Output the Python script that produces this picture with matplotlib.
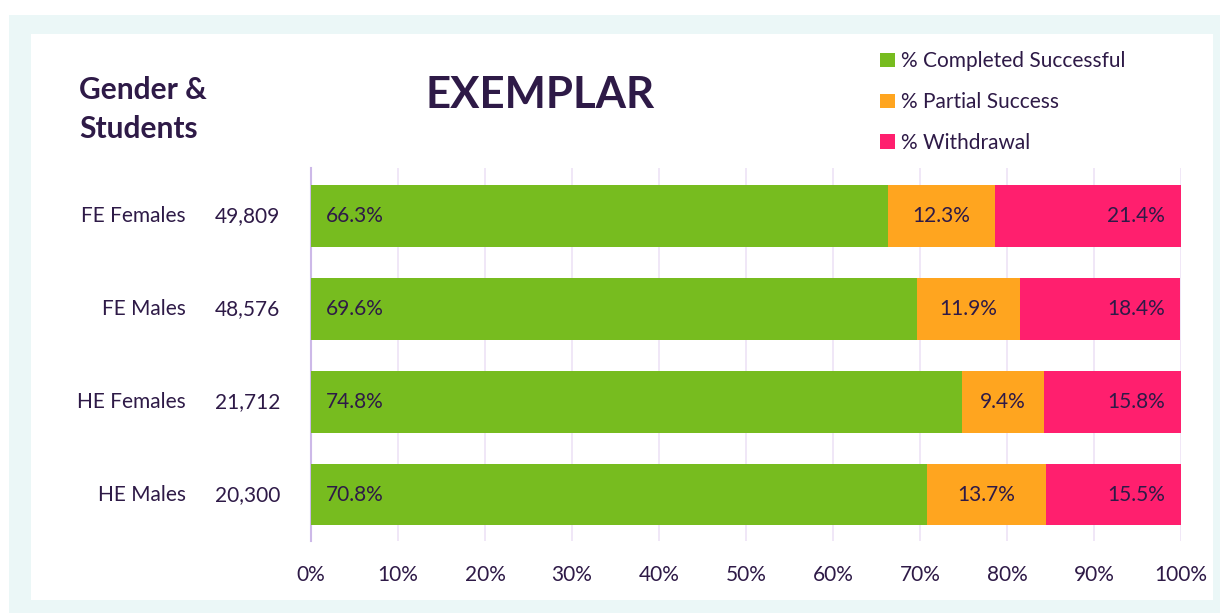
import matplotlib.pyplot as plt
import matplotlib.transforms as mtransforms
from matplotlib.patches import Rectangle, Patch

# data
groups = ['FE Females', 'FE Males', 'HE Females', 'HE Males']
students = ['49,809', '48,576', '21,712', '20,300']
completed = [66.3, 69.6, 74.8, 70.8]
partial = [12.3, 11.9, 9.4, 13.7]
withdrawal = [21.4, 18.4, 15.8, 15.5]
series_names = ['% Completed Successful', '% Partial Success', '% Withdrawal']

green = '#77BC1F'
orange = '#FFA51F'
pink = '#FF1F6E'
ink = '#2E1A47'

plt.rcParams['font.family'] = ['Lato', 'DejaVu Sans']
fs = 15

W, H = 1220, 613
fig = plt.figure(figsize=(W / 100, H / 100), dpi=100)
fig.patch.set_facecolor('white')

# framed background
fig.patches.append(Rectangle((9 / W, 0), 1 - 9 / W, 1 - 15 / H, transform=fig.transFigure,
                             facecolor='#EBF7F7', edgecolor='none', zorder=-2))
fig.patches.append(Rectangle((31 / W, 13 / H), (1213 - 31) / W, (613 - 13 - 34) / H,
                             transform=fig.transFigure, facecolor='white', edgecolor='none', zorder=-1))

ax = fig.add_axes([311 / W, 1 - 541 / H, (1181 - 311) / W, (541 - 168) / H])
ax.set_facecolor('none')

y = list(range(len(groups)))
bh = 0.665
left2 = [c + p for c, p in zip(completed, partial)]
ax.barh(y, completed, height=bh, color=green, zorder=3)
ax.barh(y, partial, left=completed, height=bh, color=orange, zorder=3)
ax.barh(y, withdrawal, left=left2, height=bh, color=pink, zorder=3)

for i in y:
    ax.text(1.7, i, f'{completed[i]:.1f}%', ha='left', va='center', fontsize=fs, color=ink, zorder=4)
    ax.text(completed[i] + partial[i] / 2, i, f'{partial[i]:.1f}%', ha='center', va='center',
            fontsize=fs, color=ink, zorder=4)
    ax.text(98.2, i, f'{withdrawal[i]:.1f}%', ha='right', va='center', fontsize=fs, color=ink, zorder=4)

ax.set_xlim(0, 100)
ax.set_ylim(3.5, -0.52)
ax.set_xticks(range(0, 101, 10))
ax.set_xticklabels([f'{t}%' for t in range(0, 101, 10)], fontsize=fs, color=ink)
ax.tick_params(axis='x', length=0, pad=17)
ax.set_yticks([])
ax.grid(axis='x', color='#EDE3F6', linewidth=1.2, zorder=0)
for s in ['top', 'right', 'bottom']:
    ax.spines[s].set_visible(False)
ax.spines['left'].set_color('#CDB9E8')
ax.spines['left'].set_linewidth(1.5)

# row labels to the left of the axis
tr = mtransforms.blended_transform_factory(fig.transFigure, ax.transData)
for i in y:
    ax.text(186 / W, i, groups[i], transform=tr, ha='right', va='center', fontsize=fs, color=ink)
    ax.text(280 / W, i, students[i], transform=tr, ha='right', va='center', fontsize=fs, color=ink)

fig.text(79 / W, 1 - 90 / H, 'Gender &', ha='left', va='center', fontsize=21.5,
         fontweight='bold', color=ink)
fig.text(79 / W, 1 - 129 / H, 'Students', ha='left', va='center', fontsize=21.5,
         fontweight='bold', color=ink)
fig.text(540 / W, 1 - 95 / H, 'EXEMPLAR', ha='center', va='center', fontsize=31.5,
         fontweight='bold', color=ink)

handles = [Patch(facecolor=c, edgecolor='none') for c in [green, orange, pink]]
fig.legend(handles, series_names, loc='upper left', bbox_to_anchor=(872 / W, 1 - 43 / H),
           frameon=False, fontsize=fs, labelcolor=ink, handlelength=0.7, handleheight=0.7,
           handletextpad=0.3, labelspacing=1.0, borderaxespad=0)

fig.savefig('out.png', dpi=100)
